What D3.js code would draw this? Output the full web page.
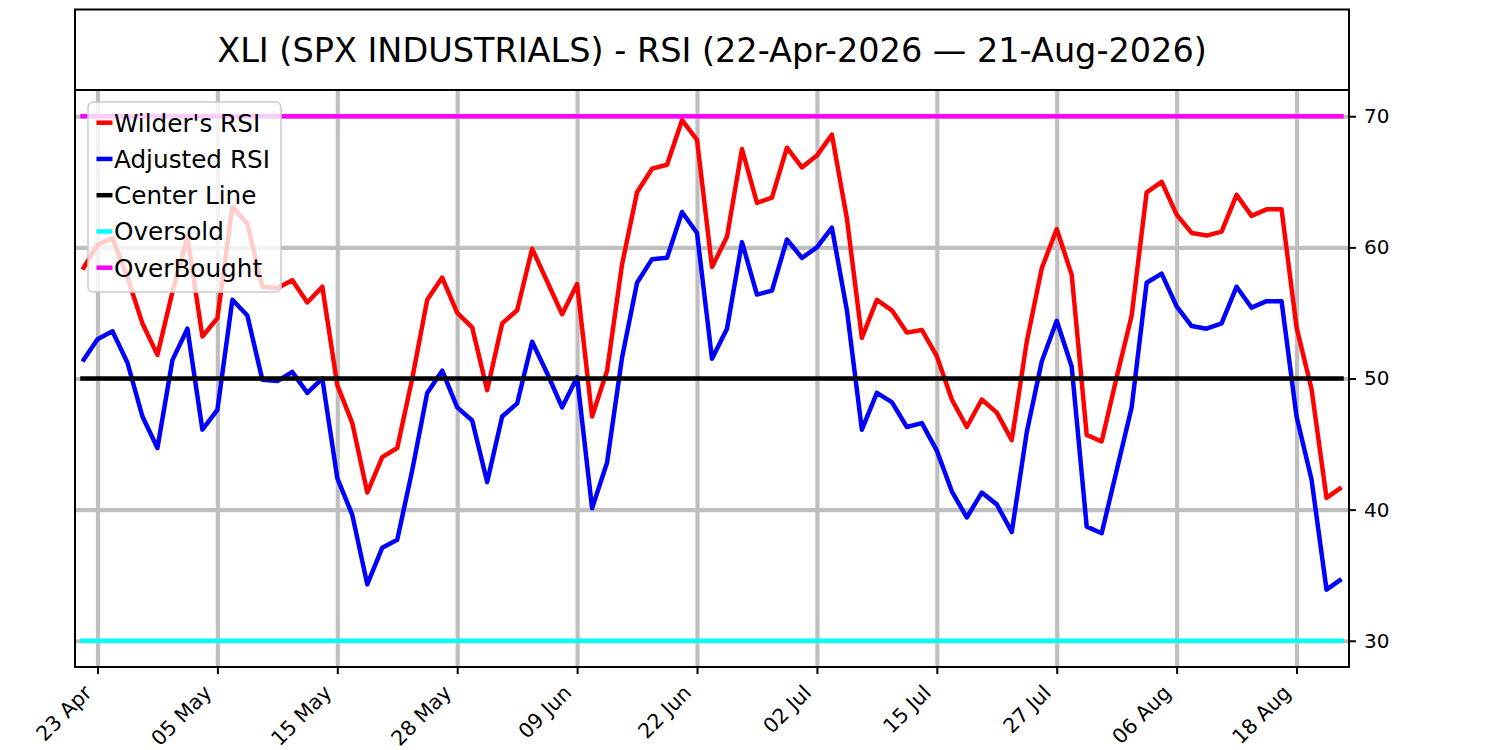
<!DOCTYPE html>
<html>
<head>
<meta charset="utf-8">
<script src="https://cdn.jsdelivr.net/npm/d3@7"></script>
<style>
body{margin:0;background:#fff}
text{font-family:"DejaVu Sans",sans-serif}
</style>
</head>
<body>
<svg id="svg" width="1500" height="750"></svg>
<script>
var wilderRsi=[58.3,60.2,60.7,57.7,54.2,51.8,56.6,60.8,53.2,54.6,
  63.1,61.8,57.0,56.9,57.5,55.8,57.0,49.5,46.6,41.3,
  44.0,44.7,50.0,56.0,57.7,55.0,53.9,49.1,54.2,55.2,
  59.9,57.4,54.9,57.2,47.1,50.6,58.7,64.2,66.0,66.3,
  69.7,68.2,58.5,60.8,67.5,63.4,63.8,67.6,66.1,67.0,
  68.6,62.2,53.1,56.0,55.2,53.5,53.7,51.7,48.4,46.3,
  48.4,47.4,45.3,52.8,58.4,61.4,57.9,45.7,45.2,50.1,
  54.8,64.2,65.0,62.5,61.1,60.9,61.2,64.0,62.4,62.9,
  62.9,53.9,49.2,40.9,41.7];
var adjustedRsi=[51.3,53.0,53.6,51.2,47.1,44.7,51.4,53.8,46.1,47.6,
  56.0,54.8,49.9,49.8,50.5,48.9,50.0,42.4,39.6,34.3,
  37.1,37.7,43.0,48.9,50.6,47.8,46.8,42.1,47.1,48.1,
  52.8,50.4,47.8,50.1,40.1,43.6,51.6,57.3,59.1,59.2,
  62.7,61.1,51.5,53.8,60.4,56.4,56.7,60.6,59.2,60.0,
  61.5,55.2,46.1,48.9,48.2,46.3,46.6,44.5,41.4,39.4,
  41.3,40.4,38.3,45.9,51.3,54.4,50.9,38.7,38.2,43.0,
  47.8,57.3,58.0,55.5,54.0,53.8,54.2,57.0,55.4,55.9,
  55.9,47.1,42.3,33.9,34.7];
var levelNames=["Center Line","Oversold","OverBought"];
var levelValues=[50,30,70];
var seriesNames=["Wilder's RSI","Adjusted RSI"];
var holidays=["2026-05-25","2026-06-19","2026-07-03"];
var yTicks=[30,40,50,60,70];
var title="XLI (SPX INDUSTRIALS) - RSI (22-Apr-2026 \u2014 21-Aug-2026)";

// trading days (weekends and market holidays skipped)
var isoFmt=d3.timeFormat("%Y-%m-%d");
var days=d3.timeDay.range(new Date(2026,3,22),new Date(2026,7,22)).filter(function(d){
  return d.getDay()!=0 && d.getDay()!=6 && holidays.indexOf(isoFmt(d))<0;
});
var labelFmt=d3.timeFormat("%d %b");
var xTicks=d3.range(1,days.length,8);

var plot={left:75,right:1349,top:90,bottom:667};
var svg=d3.select("#svg");

var x=d3.scaleLinear().domain([-0.5,wilderRsi.length-0.5]).range([plot.left,plot.right]);
var y=d3.scaleLinear().domain([28,72]).range([plot.bottom,plot.top]);

// title box
svg.append("rect").attr("x",plot.left).attr("y",9.5).attr("width",plot.right-plot.left).attr("height",plot.top-9.5)
  .attr("fill","none").attr("stroke","#000").attr("stroke-width",2);
svg.append("text").attr("x",(plot.left+plot.right)/2).attr("y",61.5).attr("text-anchor","middle")
  .attr("font-size",33.5).attr("fill","#000").text(title);

// grid
svg.append("g").attr("transform","translate(0,"+plot.bottom+")")
  .call(d3.axisBottom(x).tickValues(xTicks).tickSize(-(plot.bottom-plot.top)).tickFormat(""))
  .call(function(g){g.select(".domain").remove();})
  .selectAll("line").attr("stroke","#bfbfbf").attr("stroke-width",4.2);
svg.append("g").attr("transform","translate("+plot.right+",0)")
  .call(d3.axisRight(y).tickValues(yTicks).tickSize(-(plot.right-plot.left)).tickFormat(""))
  .call(function(g){g.select(".domain").remove();})
  .selectAll("line").attr("stroke","#bfbfbf").attr("stroke-width",4.2);

var line=d3.line().x(function(d,i){return x(i);}).y(function(d){return y(d);});

function addSeries(values,color){
  svg.append("path").datum(values).attr("d",line)
    .attr("fill","none").attr("stroke",color).attr("stroke-width",4.5)
    .attr("stroke-linejoin","round");
}
addSeries(wilderRsi,"#ff0000");
addSeries(adjustedRsi,"#0000ff");

var levelColors=["#000000","#00ffff","#ff00ff"];
levelValues.forEach(function(v,k){
  svg.append("line")
    .attr("x1",x(0)).attr("x2",x(wilderRsi.length-1))
    .attr("y1",y(v)).attr("y2",y(v))
    .attr("stroke",levelColors[k]).attr("stroke-width",4.5)
    .attr("stroke-linecap","square");
});

// spines
svg.append("rect").attr("x",plot.left).attr("y",plot.top).attr("width",plot.right-plot.left).attr("height",plot.bottom-plot.top)
  .attr("fill","none").attr("stroke","#000").attr("stroke-width",2);

// axes
var yAxis=svg.append("g").attr("transform","translate("+plot.right+",0)")
  .call(d3.axisRight(y).tickValues(yTicks).tickSize(7).tickPadding(8));
yAxis.select(".domain").remove();
yAxis.selectAll("line").attr("stroke","#000").attr("stroke-width",2);
yAxis.selectAll("text").attr("font-size",20).attr("font-family","DejaVu Sans").attr("fill","#000");

var xAxis=svg.append("g").attr("transform","translate(0,"+plot.bottom+")")
  .call(d3.axisBottom(x).tickValues(xTicks).tickSize(7).tickFormat(function(i){return labelFmt(days[i]);}));
xAxis.select(".domain").remove();
xAxis.selectAll("line").attr("stroke","#000").attr("stroke-width",2);
xAxis.selectAll("text").attr("font-size",20.5).attr("font-family","DejaVu Sans").attr("fill","#000")
  .attr("text-anchor","end").attr("x",0).attr("y",0).attr("dy",0)
  .attr("transform","translate(-5,27) rotate(-45)");

// legend
var legendNames=seriesNames.concat(levelNames);
var legendColors=["#ff0000","#0000ff"].concat(levelColors);
var legend=svg.append("g");
legend.append("rect").attr("x",88).attr("y",102).attr("width",193).attr("height",190).attr("rx",5)
  .attr("fill","#fff").attr("fill-opacity",0.8).attr("stroke","#cccccc").attr("stroke-width",1.5);
legendNames.forEach(function(n,k){
  var by=131.7+k*36.25;
  legend.append("line").attr("x1",96.5).attr("x2",112.5).attr("y1",by-9).attr("y2",by-9)
    .attr("stroke",legendColors[k]).attr("stroke-width",4.5);
  legend.append("text").attr("x",114).attr("y",by).attr("font-size",24.7).attr("fill","#000").text(n);
});
</script>
</body>
</html>
